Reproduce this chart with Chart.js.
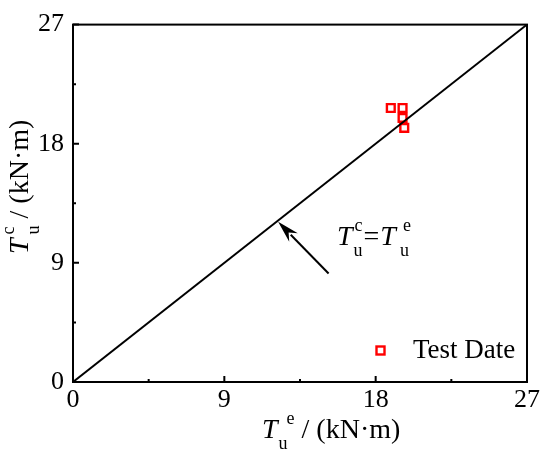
<!DOCTYPE html>
<html><head><meta charset="utf-8">
<script src="https://cdn.jsdelivr.net/npm/chart.js@4"></script>
<style>html,body{margin:0;padding:0;background:#fff}</style>
</head><body>
<canvas id="c" width="550" height="457"></canvas>
<script>
const xTicks = [0, 9, 18, 27];
const yTicks = [0, 9, 18, 27];
const minorTicks = [4.5, 13.5, 22.5];
const lineX = [0, 27];
const lineY = [0, 27];
const testX = [18.9, 19.6, 19.6, 19.7];
const testY = [20.7, 20.7, 19.95, 19.2];
const arrowFrom = [15.2, 8.2];
const arrowTo = [12.2, 12.1];
const legendLabel = 'Test Date';

const SERIF = '"Liberation Serif", "Times New Roman", serif';
const RED = '#ff0000';

function symText(ctx, x, y, sub, sup, rest, o) {
  ctx.textAlign = 'left';
  ctx.textBaseline = 'alphabetic';
  ctx.font = 'italic ' + o.big + 'px ' + SERIF;
  ctx.fillText('T', x, y);
  const wT = ctx.measureText('T').width;
  ctx.font = o.small + 'px ' + SERIF;
  const subX = x + wT + o.subOff, supX = x + wT + o.supOff;
  ctx.fillText(sub, subX, y + 11);
  ctx.fillText(sup, supX, y - 14);
  let nx = Math.max(subX + ctx.measureText(sub).width, supX + ctx.measureText(sup).width) + o.gap;
  if (rest) {
    ctx.font = o.big + 'px ' + SERIF;
    ctx.fillText(rest, nx, y);
    nx += ctx.measureText(rest).width;
  }
  return nx;
}

const decor = {
  id: 'decor',
  afterDraw(chart) {
    const ctx = chart.ctx;
    const a = chart.chartArea;
    const xs = chart.scales.x, ys = chart.scales.y;
    ctx.save();
    ctx.strokeStyle = '#000';
    ctx.fillStyle = '#000';
    ctx.lineWidth = 2;
    ctx.strokeRect(a.left, a.top, a.right - a.left, a.bottom - a.top);
    // inward ticks
    ctx.beginPath();
    xTicks.forEach(v => { const p = xs.getPixelForValue(v); ctx.moveTo(p, a.bottom); ctx.lineTo(p, a.bottom - 6); });
    minorTicks.forEach(v => { const p = xs.getPixelForValue(v); ctx.moveTo(p, a.bottom); ctx.lineTo(p, a.bottom - 3); });
    yTicks.forEach(v => { const p = ys.getPixelForValue(v); ctx.moveTo(a.left, p); ctx.lineTo(a.left + 6, p); });
    minorTicks.forEach(v => { const p = ys.getPixelForValue(v); ctx.moveTo(a.left, p); ctx.lineTo(a.left + 3, p); });
    ctx.stroke();
    // arrow
    const fx = xs.getPixelForValue(arrowFrom[0]), fy = ys.getPixelForValue(arrowFrom[1]);
    const tx = xs.getPixelForValue(arrowTo[0]), ty = ys.getPixelForValue(arrowTo[1]);
    const ang = Math.atan2(ty - fy, tx - fx);
    const hl = 22, hw = 6;
    const bx = tx - hl * Math.cos(ang), by = ty - hl * Math.sin(ang);
    ctx.beginPath();
    ctx.moveTo(fx, fy); ctx.lineTo(bx + 4 * Math.cos(ang), by + 4 * Math.sin(ang));
    ctx.stroke();
    ctx.beginPath();
    ctx.moveTo(tx, ty);
    ctx.lineTo(bx + hw * Math.sin(ang), by - hw * Math.cos(ang));
    ctx.lineTo(bx + 7 * Math.cos(ang), by + 7 * Math.sin(ang));
    ctx.lineTo(bx - hw * Math.sin(ang), by + hw * Math.cos(ang));
    ctx.closePath();
    ctx.fill();
    // annotation T_u^c = T_u^e
    const ann = { big: 28, small: 18, subOff: 1, supOff: 2, gap: 1 };
    let nx = symText(ctx, 337, 245, 'u', 'c', '=', ann);
    symText(ctx, nx + 1, 245, 'u', 'e', '', { big: 28, small: 18, subOff: 4, supOff: 7, gap: 0 });
    // x title
    symText(ctx, 262, 438, 'u', 'e', ' / (kN\u00b7m)', { big: 28, small: 18, subOff: 1, supOff: 9, gap: 0 });
    // y title
    ctx.save();
    ctx.translate(28, 254);
    ctx.rotate(-Math.PI / 2);
    symText(ctx, 0, 0, 'u', 'c', ' / (kN\u00b7m)', { big: 28, small: 18, subOff: 4, supOff: 4, gap: 0 });
    ctx.restore();
    // legend
    ctx.strokeStyle = RED;
    ctx.lineWidth = 2.4;
    ctx.strokeRect(376.5, 346.5, 8, 8);
    ctx.fillStyle = '#000';
    ctx.font = '27px ' + SERIF;
    ctx.textAlign = 'left';
    ctx.textBaseline = 'alphabetic';
    ctx.fillText(legendLabel, 413, 358);
    ctx.restore();
  }
};

new Chart(document.getElementById('c'), {
  type: 'scatter',
  data: {
    datasets: [
      {
        label: 'y = x',
        data: lineX.map((v, i) => ({ x: v, y: lineY[i] })),
        showLine: true,
        borderColor: '#000',
        borderWidth: 2,
        pointRadius: 0,
        fill: false
      },
      {
        label: legendLabel,
        data: testX.map((v, i) => ({ x: v, y: testY[i] })),
        pointStyle: 'rect',
        pointRadius: 5.5,
        borderWidth: 2.4,
        borderColor: RED,
        backgroundColor: 'rgba(255,255,255,0)'
      }
    ]
  },
  options: {
    responsive: false,
    animation: false,
    devicePixelRatio: 1,
    layout: { padding: { left: 0, top: 20, right: 23, bottom: 0 } },
    plugins: { legend: { display: false }, tooltip: { enabled: false } },
    scales: {
      x: {
        type: 'linear', min: 0, max: 27,
        afterBuildTicks: s => { s.ticks = xTicks.map(v => ({ value: v })); },
        afterFit: s => { s.height = 75; },
        grid: { display: false, drawTicks: false, tickLength: 0 },
        border: { display: false },
        ticks: { color: '#000', padding: 3, maxRotation: 0, font: { family: SERIF, size: 26 } }
      },
      y: {
        type: 'linear', min: 0, max: 27,
        afterBuildTicks: s => { s.ticks = yTicks.map(v => ({ value: v })); },
        afterFit: s => { s.width = 73; },
        grid: { display: false, drawTicks: false, tickLength: 0 },
        border: { display: false },
        ticks: { color: '#000', padding: 9, font: { family: SERIF, size: 26 } }
      }
    }
  },
  plugins: [decor]
});
</script>
</body></html>
